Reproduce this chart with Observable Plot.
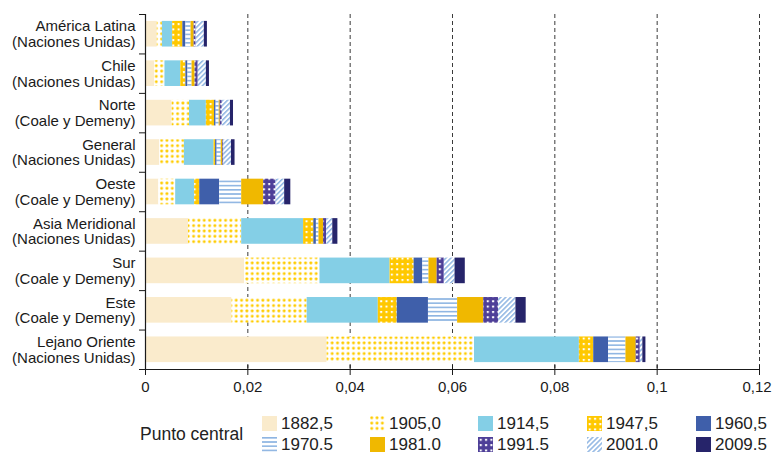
<!DOCTYPE html>
<html><head><meta charset="utf-8">
<script src="https://cdn.jsdelivr.net/npm/d3@7"></script>
<script src="https://cdn.jsdelivr.net/npm/@observablehq/plot@0.6"></script>
<style>
body{margin:0;background:#fff;font-family:"Liberation Sans",Arial,sans-serif;}
#chart{width:772px;height:400px;}
#legend{position:relative;width:772px;height:54px;color:#222;}
.lt{position:absolute;font-size:17px;line-height:20px;white-space:nowrap;}
.sw{position:absolute;width:15px;height:15px;}
</style></head><body>
<svg width="0" height="0" style="position:absolute">
<defs>
<pattern id="p1905" patternUnits="userSpaceOnUse" width="5.33" height="5.33">
<rect width="5.33" height="5.33" fill="#fff"/><rect x="0.4" y="0.4" width="2.6" height="2.6" rx="0.6" fill="#FFCC00"/>
</pattern>
<pattern id="p1947" patternUnits="userSpaceOnUse" width="5.33" height="5.33">
<rect width="5.33" height="5.33" fill="#FFC800"/><rect x="1.7" y="1.7" width="2.1" height="2.1" rx="0.5" fill="#fff"/>
</pattern>
<pattern id="p1970" patternUnits="userSpaceOnUse" width="4" height="4.2">
<rect width="4" height="4.2" fill="#fff"/><rect y="0" width="4" height="1.6" fill="#8DB4E2"/>
</pattern>
<pattern id="p1991" patternUnits="userSpaceOnUse" width="5.33" height="5.33">
<rect width="5.33" height="5.33" fill="#4E3F98"/><rect x="1.7" y="1.7" width="2.1" height="2.1" rx="0.5" fill="#fff"/>
</pattern>
<pattern id="p2001" patternUnits="userSpaceOnUse" width="3.5" height="3.5" patternTransform="rotate(45)">
<rect width="3.5" height="3.5" fill="#fff"/><rect x="0" width="1.5" height="3.5" fill="#8DB4E2"/>
</pattern>
</defs>
</svg>
<div id="chart"></div>
<div id="legend"></div>
<script>
// Categories (top to bottom)
const categories = [
  "América Latina\n(Naciones Unidas)",
  "Chile\n(Naciones Unidas)",
  "Norte\n(Coale y Demeny)",
  "General\n(Naciones Unidas)",
  "Oeste\n(Coale y Demeny)",
  "Asia Meridional\n(Naciones Unidas)",
  "Sur\n(Coale y Demeny)",
  "Este\n(Coale y Demeny)",
  "Lejano Oriente\n(Naciones Unidas)"
];
// Series (legend labels as shown)
const yearLabels = ["1882,5", "1905,0", "1914,5", "1947,5", "1960,5", "1970.5", "1981.0", "1991.5", "2001.0", "2009.5"];
// Values per series, in category order
const v1882 = [0.0023, 0.0018, 0.0052, 0.0028, 0.0026, 0.0084, 0.0194, 0.0169, 0.0355];
const v1905 = [0.0010, 0.0020, 0.0034, 0.0048, 0.0033, 0.0104, 0.0147, 0.0147, 0.0288];
const v1914 = [0.0020, 0.0031, 0.0033, 0.0058, 0.0037, 0.0121, 0.0137, 0.0139, 0.0205];
const v1947 = [0.0020, 0.0010, 0.0016, 0.0003, 0.0010, 0.0020, 0.0047, 0.0037, 0.0028];
const v1960 = [0.0006, 0.0004, 0.0003, 0.0003, 0.0039, 0.0005, 0.0017, 0.0061, 0.0029];
const v1970 = [0.0010, 0.0008, 0.0006, 0.0008, 0.0043, 0.0005, 0.0012, 0.0057, 0.0034];
const v1981 = [0.0006, 0.0006, 0.0002, 0.0003, 0.0043, 0.0009, 0.0016, 0.0051, 0.0020];
const v1991 = [0.0004, 0.0006, 0.0004, 0.0002, 0.0024, 0.0006, 0.0014, 0.0029, 0.0008];
const v2001 = [0.0016, 0.0016, 0.0016, 0.0015, 0.0017, 0.0012, 0.0021, 0.0034, 0.0005];
const v2009 = [0.0006, 0.0006, 0.0006, 0.0007, 0.0012, 0.0010, 0.0020, 0.0020, 0.0006];
const seriesValues = [v1882, v1905, v1914, v1947, v1960, v1970, v1981, v1991, v2001, v2009];
// X ticks
const xTicks = [0, 0.02, 0.04, 0.06, 0.08, 0.1, 0.12];
const xTickLabels = ["0", "0,02", "0,04", "0,06", "0,08", "0,1", "0,12"];
const legendTitle = "Punto central";

// Fills (colours / patterns) per series
const fills = ["#FAEBCC", "url(#p1905)", "#84CFE6", "url(#p1947)", "#3F5FAA", "url(#p1970)", "#F0B800", "url(#p1991)", "url(#p2001)", "#26246A"];

const rows = [];
yearLabels.forEach((yl, si) => {
  categories.forEach((c, ci) => rows.push({cat: c, ci, year: yl, value: seriesValues[si][ci]}));
});

const n = categories.length;
const font = '"Liberation Sans", Arial, sans-serif';
const chart = Plot.plot({
  width: 772, height: 400,
  marginLeft: 145, marginRight: 13, marginTop: 14, marginBottom: 31,
  style: {fontFamily: font, fontSize: "15px", color: "#1a1a1a", background: "#fff", overflow: "visible"},
  x: {domain: [0, 0.12], ticks: xTicks, tickFormat: d => xTickLabels[xTicks.indexOf(d)], tickSize: 6, tickPadding: 6, label: null},
  y: {domain: [0, n], reverse: true, ticks: d3.range(n + 1), tickFormat: () => "", tickSize: 6, label: null},
  color: {type: "ordinal", domain: yearLabels, range: fills},
  marks: [
    Plot.ruleX(xTicks.slice(1), {stroke: "#3a3a3a", strokeDasharray: "4,3", strokeWidth: 1}),
    Plot.rectX(rows, {x: "value", y1: d => d.ci + 0.175, y2: d => d.ci + 0.825, z: "year", fill: "year"}),
    Plot.ruleX([0], {stroke: "#1a1a1a", strokeWidth: 1.2}),
    Plot.ruleY([n], {stroke: "#1a1a1a", strokeWidth: 1.2}),
    Plot.ruleX(xTicks, {y1: n, y2: n, insetTop: -4, stroke: "#1a1a1a"}),
    Plot.text(categories, {x: 0, y: (d, i) => i + 0.5, text: d => d, textAnchor: "end", dx: -10, lineHeight: 1.05, fontSize: 15, fill: "#1a1a1a"})
  ]
});
// nudge the last x tick label so it stays inside the page
chart.querySelectorAll("text").forEach(t => {
  if (t.textContent === xTickLabels[xTickLabels.length - 1]) t.setAttribute("dx", "-2.5");
});
document.getElementById("chart").append(chart);

// Legend
const legend = document.getElementById("legend");
const colX = [262, 370, 478, 587, 696];
const rowTop = [15, 36];
const title = document.createElement("div");
title.className = "lt";
title.style.left = "140px"; title.style.top = "24px"; title.style.fontSize = "17.5px";
title.textContent = legendTitle;
legend.append(title);
yearLabels.forEach((yl, i) => {
  const r = Math.floor(i / 5), c = i % 5;
  const sw = document.createElementNS("http://www.w3.org/2000/svg", "svg");
  sw.setAttribute("class", "sw");
  sw.setAttribute("width", 15); sw.setAttribute("height", 15);
  sw.style.left = colX[c] + "px"; sw.style.top = (rowTop[r] + 1) + "px";
  const rect = document.createElementNS("http://www.w3.org/2000/svg", "rect");
  rect.setAttribute("width", 15); rect.setAttribute("height", 15);
  rect.setAttribute("fill", fills[i]);
  sw.append(rect);
  legend.append(sw);
  const t = document.createElement("div");
  t.className = "lt";
  t.style.left = (colX[c] + 19) + "px"; t.style.top = (rowTop[r] - 1) + "px";
  t.textContent = yl;
  legend.append(t);
});
</script>
</body></html>
